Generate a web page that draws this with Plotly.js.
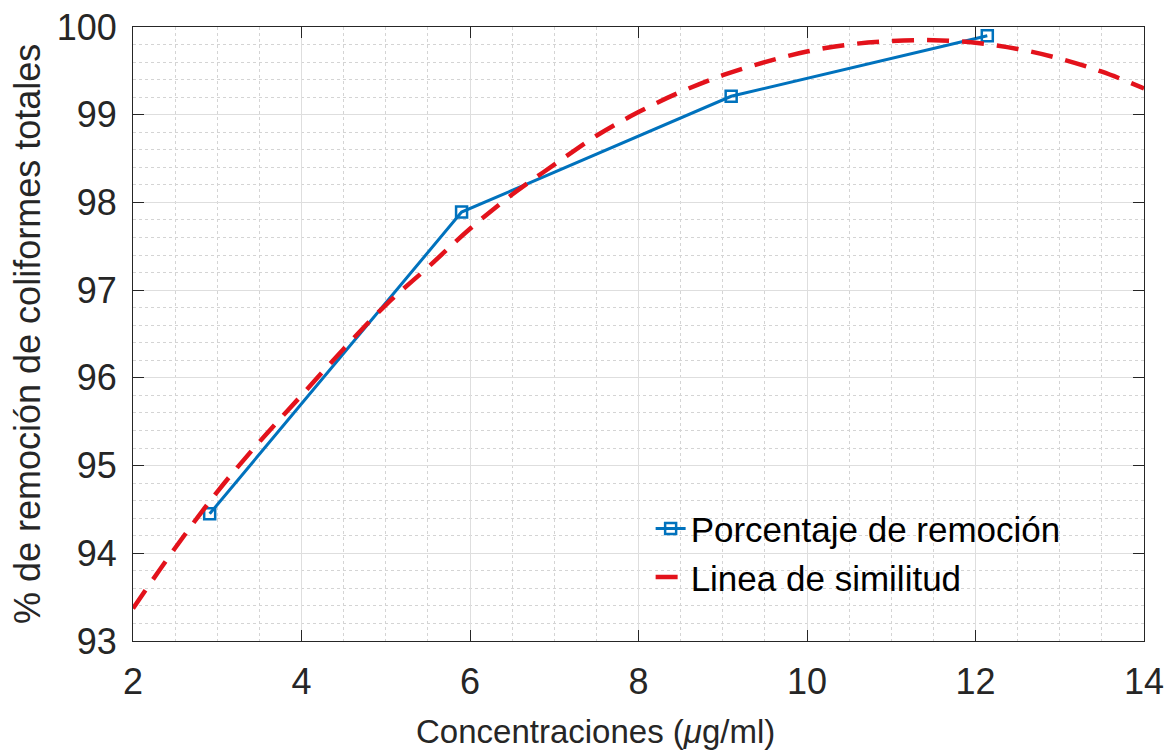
<!DOCTYPE html>
<html>
<head>
<meta charset="utf-8">
<script src="https://cdn.plot.ly/plotly-3.0.1.min.js"></script>
<style>html,body{margin:0;padding:0;background:#fff;}#chart{width:1168px;height:751px;}</style>
</head>
<body>
<div id="chart"></div>
<script>
// Measured data (Porcentaje de remoción)
var concX = [2.91, 5.90, 9.10, 12.14];
var remocionY = [94.45, 97.89, 99.21, 99.90];

// Fitted curve (Linea de similitud)
var fitX = [2, 2.5, 3, 3.5, 4, 4.5, 5, 5.5, 6, 6.5, 7, 7.5, 8, 8.5, 9, 9.5, 10, 10.5, 11, 11.5, 12, 12.5, 13, 13.5, 14];
var fitY = [93.37, 94.06, 94.70, 95.27, 95.80, 96.33, 96.83, 97.26, 97.70, 98.09, 98.43, 98.76, 99.03, 99.26, 99.45, 99.60, 99.72, 99.80, 99.84, 99.85, 99.82, 99.75, 99.64, 99.49, 99.30];

var seriesNames = ["Porcentaje de remoción", "Linea de similitud"];
var xTickVals = [2, 4, 6, 8, 10, 12, 14];
var yTickVals = [93, 94, 95, 96, 97, 98, 99, 100];
var xTitle = "Concentraciones (<i>μ</i>g/ml)";
var yTitle = "% de remoción de coliformes totales";

var FONT = "Liberation Sans, Arial, Helvetica, sans-serif";
var TXT = "#262626";

var traces = [
  {
    x: concX, y: remocionY, name: seriesNames[0],
    type: "scatter", mode: "lines+markers",
    line: {color: "#0072BD", width: 3},
    marker: {symbol: "square-open", size: 11, color: "#0072BD", line: {width: 2.5, color: "#0072BD"}}
  },
  {
    x: fitX, y: fitY, name: seriesNames[1],
    type: "scatter", mode: "lines",
    line: {color: "#E3121B", width: 4.5, dash: "22px,13px", shape: "spline"}
  }
];

var axisCommon = {
  showline: true, linecolor: TXT, linewidth: 1, mirror: "allticks",
  ticks: "inside", ticklen: 11, tickwidth: 1, tickcolor: TXT,
  showgrid: true, gridcolor: "#dedede", gridwidth: 1,
  zeroline: false,
  tickfont: {family: FONT, size: 36, color: TXT}
};

var layout = {
  width: 1168, height: 751,
  paper_bgcolor: "#ffffff", plot_bgcolor: "#ffffff",
  margin: {l: 133, r: 24, t: 27, b: 110},
  showlegend: true,
  legend: {
    x: 0.512, y: 0.231, xanchor: "left", yanchor: "top",
    bgcolor: "rgba(0,0,0,0)", borderwidth: 0,
    font: {family: FONT, size: 35, color: "#000"},
    tracegroupgap: 0
  },
  xaxis: Object.assign({}, axisCommon, {
    range: [2, 14], tickvals: xTickVals, ticktext: xTickVals.map(String),
    ticklabelstandoff: 9,
    minor: {dtick: 0.5, tick0: 2, showgrid: true, gridcolor: "#d4d4d4", griddash: "dot", gridwidth: 1, ticks: ""}
  }),
  yaxis: Object.assign({}, axisCommon, {
    range: [93, 100], tickvals: yTickVals, ticktext: yTickVals.map(String),
    ticklabelstandoff: 8,
    minor: {dtick: 0.2, tick0: 93, showgrid: true, gridcolor: "#d4d4d4", griddash: "dot", gridwidth: 1, ticks: ""}
  }),
  annotations: [
    {text: xTitle, xref: "paper", yref: "paper", x: 0.457, y: -0.148,
     xanchor: "center", yanchor: "middle", showarrow: false,
     font: {family: FONT, size: 33, color: TXT}},
    {text: yTitle, xref: "paper", yref: "paper", x: -0.1048, y: 0.5, textangle: -90,
     xanchor: "center", yanchor: "middle", showarrow: false,
     font: {family: FONT, size: 36, color: TXT}}
  ]
};

Plotly.newPlot("chart", traces, layout, {displayModeBar: false, staticPlot: true});
</script>
</body>
</html>
